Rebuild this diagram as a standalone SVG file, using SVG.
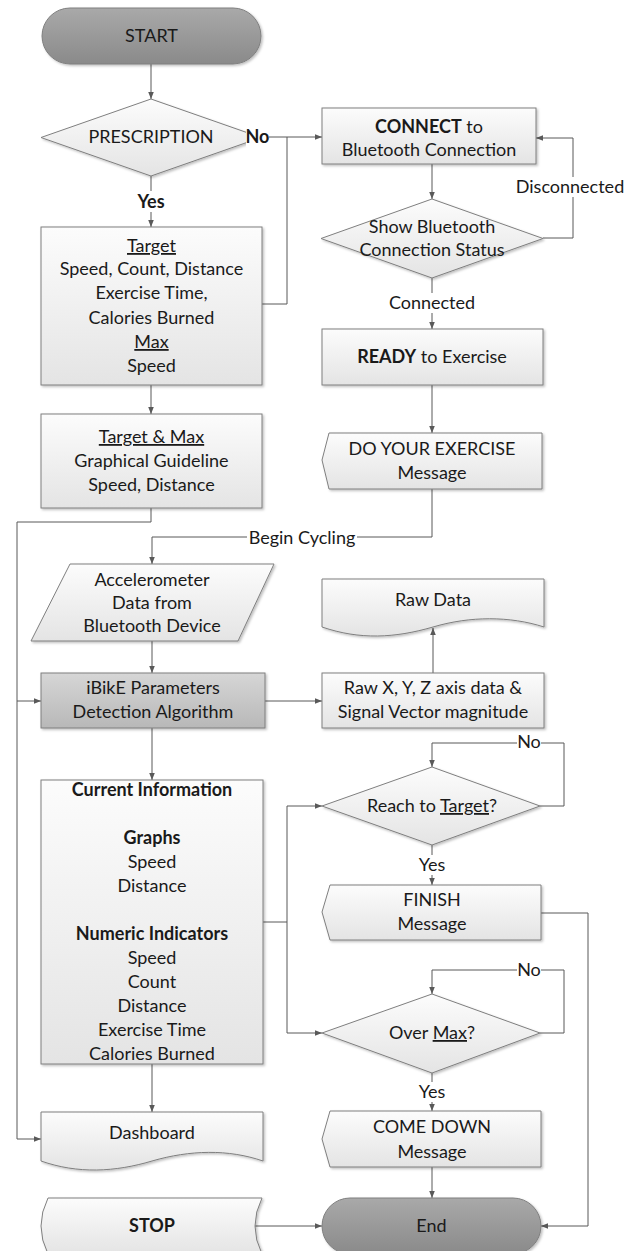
<svg xmlns="http://www.w3.org/2000/svg" width="634" height="1251" viewBox="0 0 634 1251">
<defs>
<linearGradient id="gL" x1="0" y1="0" x2="0" y2="1"><stop offset="0" stop-color="#fcfcfc"/><stop offset="1" stop-color="#e4e4e4"/></linearGradient>
<linearGradient id="gM" x1="0" y1="0" x2="0" y2="1"><stop offset="0" stop-color="#d6d6d6"/><stop offset="1" stop-color="#b8b8b8"/></linearGradient>
<linearGradient id="gD" x1="0" y1="0" x2="0" y2="1"><stop offset="0" stop-color="#a9a9a9"/><stop offset="1" stop-color="#8a8a8a"/></linearGradient>
<filter id="sh" x="-5%" y="-5%" width="115%" height="120%"><feDropShadow dx="1.5" dy="1.5" stdDeviation="0.8" flood-color="#000" flood-opacity="0.25"/></filter>
<marker id="a" viewBox="0 0 10 10" refX="10" refY="5" markerWidth="7" markerHeight="7" orient="auto" markerUnits="userSpaceOnUse"><path d="M0,1 L10,5 L0,9 z" fill="#595959"/></marker>
</defs>
<style>
.s{stroke:#7f7f7f;stroke-width:1;filter:url(#sh)}
.l{fill:url(#gL)}
.m{fill:url(#gM)}
.d{fill:url(#gD)}
.c{fill:none;stroke:#595959;stroke-width:1}
.ar{marker-end:url(#a)}
.t{font-family:Lato,"Liberation Sans",sans-serif;font-size:18px;fill:#1a1a1a;text-anchor:middle}
.b{font-weight:bold}
.u{text-decoration:underline}
.bg{fill:#ffffff}
</style>

<g id="connectors">
<path class="c ar" d="M151,64 V99"/>
<path class="c ar" d="M151,176 V227"/>
<path class="c ar" d="M261,137 H322"/>
<path class="c" d="M262,304 H287 V137"/>
<path class="c ar" d="M151,385 V414"/>
<path class="c ar" d="M151,508 V522 H17 V1139 H41"/>
<path class="c ar" d="M17,701 H41"/>
<path class="c ar" d="M432,164 V199"/>
<path class="c ar" d="M543,238 H573 V138 H536"/>
<path class="c ar" d="M432,278 V329"/>
<path class="c ar" d="M432,385 V433"/>
<path class="c ar" d="M432,489 V537 H152 V564"/>
<path class="c ar" d="M152,641 V673"/>
<path class="c ar" d="M265,701 H322"/>
<path class="c ar" d="M433,673 V628"/>
<path class="c ar" d="M152,728 V780"/>
<path class="c" d="M263,922 H287"/>
<path class="c ar" d="M287,922 V806 H322"/>
<path class="c ar" d="M287,922 V1033 H322"/>
<path class="c ar" d="M540,806 H564 V743 H432 V767"/>
<path class="c ar" d="M432,845 V885"/>
<path class="c ar" d="M541,913 H588 V1226 H541"/>
<path class="c ar" d="M540,1033 H564 V970 H432 V994"/>
<path class="c ar" d="M432,1073 V1111"/>
<path class="c ar" d="M432,1167 V1198"/>
<path class="c ar" d="M255,1226 H322"/>
<path class="c ar" d="M152,1064 V1112"/>
</g>

<g id="start">
<rect class="s d" x="42" y="8" width="219" height="56" rx="28"/>
<text class="t" x="151.5" y="42">START</text>
</g>

<g id="prescription">
<path class="s l" d="M151,99 L261,137.5 L151,176 L41,137.5 Z"/>
<text class="t" x="151" y="143">PRESCRIPTION</text>
</g>

<g id="target">
<rect class="s l" x="41" y="227" width="221" height="158"/>
<text class="t" x="151.5" y="252"><tspan class="u">Target</tspan></text>
<text class="t" x="151.5" y="275">Speed, Count, Distance</text>
<text class="t" x="151.5" y="299">Exercise Time,</text>
<text class="t" x="151.5" y="324">Calories Burned</text>
<text class="t" x="151.5" y="348"><tspan class="u">Max</tspan></text>
<text class="t" x="151.5" y="372">Speed</text>
</g>

<g id="guideline">
<rect class="s l" x="41" y="414" width="221" height="94"/>
<text class="t" x="151.5" y="443"><tspan class="u">Target &amp; Max</tspan></text>
<text class="t" x="151.5" y="467">Graphical Guideline</text>
<text class="t" x="151.5" y="491">Speed, Distance</text>
</g>

<g id="connect">
<rect class="s l" x="322" y="108" width="214" height="56"/>
<text class="t" x="429" y="133"><tspan class="b">CONNECT</tspan> to</text>
<text class="t" x="429" y="156">Bluetooth Connection</text>
</g>

<g id="status">
<path class="s l" d="M432,199 L543,238.5 L432,278 L321,238.5 Z"/>
<text class="t" x="432" y="233">Show Bluetooth</text>
<text class="t" x="432" y="256">Connection Status</text>
</g>

<g id="ready">
<rect class="s l" x="322" y="329" width="221" height="56"/>
<text class="t" x="432" y="363"><tspan class="b">READY</tspan>  to Exercise</text>
</g>

<g id="doexercise">
<path class="s l" d="M329,433 H542 V489 H329 L322,460 Z"/>
<text class="t" x="432" y="455">DO YOUR EXERCISE</text>
<text class="t" x="432" y="479">Message</text>
</g>

<g id="accelerometer">
<path class="s l" d="M70,564 H274 L238,641 H31 Z"/>
<text class="t" x="152" y="586">Accelerometer</text>
<text class="t" x="152" y="609">Data from</text>
<text class="t" x="152" y="632">Bluetooth Device</text>
</g>

<g id="ibike">
<rect class="s m" x="41" y="673" width="224" height="55"/>
<text class="t" x="153" y="694">iBikE Parameters</text>
<text class="t" x="153" y="718">Detection Algorithm</text>
</g>

<g id="rawxyz">
<rect class="s l" x="322" y="673" width="222" height="55"/>
<text class="t" x="433" y="694">Raw X, Y, Z axis data &amp;</text>
<text class="t" x="433" y="718">Signal Vector magnitude</text>
</g>

<g id="rawdata">
<path class="s l" d="M322,579 H544 V627 C510,616 470,616 433,627 C395,638 360,640 322,627 Z"/>
<text class="t" x="433" y="606">Raw Data</text>
</g>

<g id="current">
<rect class="s l" x="41" y="780" width="222" height="284"/>
<text class="t b" x="152" y="796">Current Information</text>
<text class="t b" x="152" y="844">Graphs</text>
<text class="t" x="152" y="868">Speed</text>
<text class="t" x="152" y="892">Distance</text>
<text class="t b" x="152" y="940">Numeric Indicators</text>
<text class="t" x="152" y="964">Speed</text>
<text class="t" x="152" y="988">Count</text>
<text class="t" x="152" y="1012">Distance</text>
<text class="t" x="152" y="1036">Exercise Time</text>
<text class="t" x="152" y="1060">Calories Burned</text>
</g>

<g id="reach">
<path class="s l" d="M432,767 L540,806 L432,845 L322,806 Z"/>
<text class="t" x="432" y="812">Reach to <tspan class="u">Target</tspan>?</text>
</g>

<g id="finish">
<path class="s l" d="M330,885 H541 V940 H330 L322,912 Z"/>
<text class="t" x="432" y="906">FINISH</text>
<text class="t" x="432" y="930">Message</text>
</g>

<g id="overmax">
<path class="s l" d="M432,994 L540,1033 L432,1073 L322,1033 Z"/>
<text class="t" x="432" y="1039">Over <tspan class="u">Max</tspan>?</text>
</g>

<g id="comedown">
<path class="s l" d="M330,1111 H541 V1167 H330 L322,1139 Z"/>
<text class="t" x="432" y="1133">COME DOWN</text>
<text class="t" x="432" y="1158">Message</text>
</g>

<g id="dashboard">
<path class="s l" d="M41,1112 H263 V1161 C228,1149 190,1150 152,1161 C115,1172 78,1174 41,1161 Z"/>
<text class="t" x="152" y="1139">Dashboard</text>
</g>

<g id="stop">
<path class="s l" d="M48,1198 H262 Q248,1226 262,1254 H48 Q34,1226 48,1198 Z"/>
<text class="t b" x="152" y="1232">STOP</text>
</g>

<g id="end">
<rect class="s d" x="322" y="1198" width="219" height="56" rx="28"/>
<text class="t" x="431.5" y="1232">End</text>
</g>

<g id="labels">
<rect class="bg" x="246" y="127" width="23" height="20"/>
<text class="t b" x="257.5" y="143">No</text>
<rect class="bg" x="133" y="191" width="36" height="21"/>
<text class="t b" x="151" y="208">Yes</text>
<rect class="bg" x="515" y="177" width="110" height="20"/>
<text class="t" x="570" y="193">Disconnected</text>
<rect class="bg" x="389" y="293" width="86" height="20"/>
<text class="t" x="432" y="309">Connected</text>
<rect class="bg" x="247" y="528" width="110" height="20"/>
<text class="t" x="302" y="544">Begin Cycling</text>
<rect class="bg" x="517" y="733" width="24" height="20"/>
<text class="t" x="529" y="748">No</text>
<rect class="bg" x="416" y="855" width="32" height="20"/>
<text class="t" x="432" y="871">Yes</text>
<rect class="bg" x="517" y="960" width="24" height="20"/>
<text class="t" x="529" y="976">No</text>
<rect class="bg" x="416" y="1082" width="32" height="20"/>
<text class="t" x="432" y="1098">Yes</text>
</g>
</svg>
